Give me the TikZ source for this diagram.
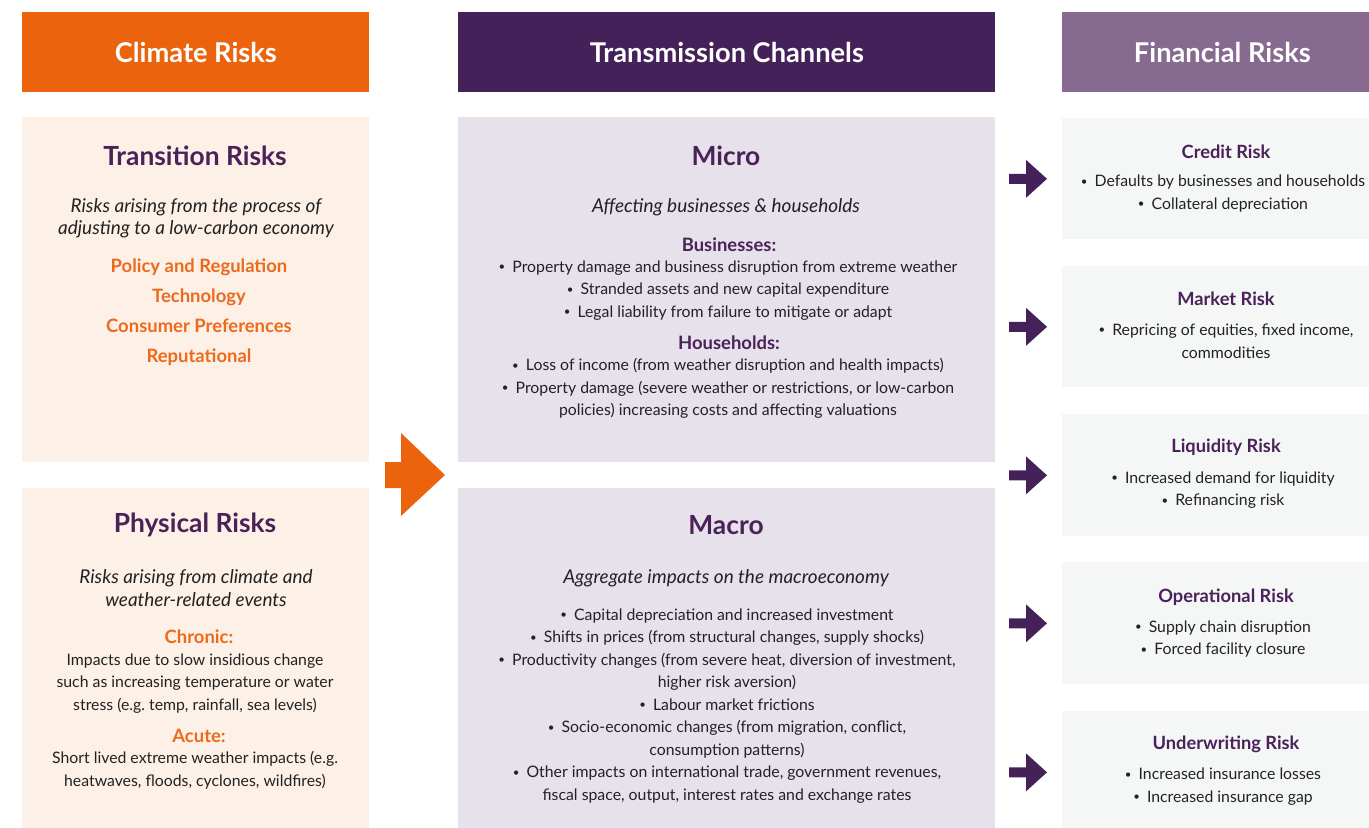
\documentclass[tikz,border=0pt]{standalone}
\usepackage{fontspec}
\setmainfont{Lato}
\frenchspacing

\definecolor{cOrange}{HTML}{EB630C}
\definecolor{cOrangeTxt}{HTML}{EC6A1C}
\definecolor{cPurple}{HTML}{45215A}
\definecolor{cLilacHead}{HTML}{866A8F}
\definecolor{cTitle}{HTML}{4A2158}
\definecolor{cPeach}{HTML}{FDF0E7}
\definecolor{cLilac}{HTML}{E6E1EA}
\definecolor{cGrey}{HTML}{F5F7F7}
\definecolor{cBody}{HTML}{222222}

% small bullet
\newcommand{\bul}{\raisebox{0.2ex}{\fontsize{6.5}{6.5}\selectfont\textbullet}\hspace{0.45em}}

\tikzset{
  head/.style={anchor=north west, inner sep=0pt, text=white,
    font=\bfseries\fontsize{15.5}{18}\selectfont, minimum height=1.6cm},
  pane/.style={anchor=north west, inner sep=0pt},
  ttl/.style={inner sep=0pt, text=cTitle, font=\bfseries\fontsize{15}{18}\selectfont},
  rttl/.style={inner sep=0pt, text=cTitle, font=\bfseries\fontsize{10.4}{12}\selectfont},
  sub/.style={inner sep=0pt, align=center, text=cBody, font=\itshape\fontsize{10.8}{12.8}\selectfont},
  body/.style={inner sep=0pt, align=center, text=cBody, font=\fontsize{9}{12.8}\selectfont},
  tag/.style={inner sep=0pt, align=center, font=\bfseries\fontsize{10.5}{17.1}\selectfont},
}

\begin{document}
\begin{tikzpicture}[x=0.02cm, y=-0.02cm]
    \useasboundingbox (0,0) rectangle (1369,828);
    % column heads
    \node[head, fill=cOrange, minimum width=6.94cm] (hclim) at (22,12) {Climate Risks};
    \node[head, fill=cPurple, minimum width=10.74cm] (htrans) at (458,12) {Transmission Channels};
    \node[head, fill=cLilacHead, minimum width=6.4cm] (hfin) at (1062,12) {Financial Risks};
    % panes
    \node[pane, fill=cPeach, minimum width=6.94cm, minimum height=6.9cm] (ptrans) at (22,117) {};
    \node[pane, fill=cPeach, minimum width=6.94cm, minimum height=6.8cm] (pphys) at (22,488) {};
    \node[pane, fill=cLilac, minimum width=10.74cm, minimum height=6.9cm] (pmicro) at (458,117) {};
    \node[pane, fill=cLilac, minimum width=10.74cm, minimum height=6.8cm] (pmacro) at (458,488) {};
    \node[pane, fill=cGrey, minimum width=6.66cm, minimum height=2.42cm] (credit) at (1062,118) {};
    \node[pane, fill=cGrey, minimum width=6.66cm, minimum height=2.42cm] (market) at (1062,266) {};
    \node[pane, fill=cGrey, minimum width=6.66cm, minimum height=2.44cm] (liquid) at (1062,414) {};
    \node[pane, fill=cGrey, minimum width=6.66cm, minimum height=2.44cm] (oper) at (1062,562) {};
    \node[pane, fill=cGrey, minimum width=6.66cm, minimum height=2.44cm] (under) at (1062,711) {};
    % transition risks
    \node[ttl] (ttrans) at (195,156) {Transition Risks};
    \node[sub] (strans) at (196,218) {Risks arising from the process of\\adjusting to a low-carbon economy};
    \node[tag, text=cOrangeTxt] (ltrans) at (199,312) {Policy and Regulation\\Technology\\Consumer Preferences\\Reputational};
    % physical risks
    \node[ttl] (tphys) at (195,525) {Physical Risks};
    \node[sub] (sphys) at (196,588) {Risks arising from climate and\\weather-related events};
    \node[tag, text=cOrangeTxt] (chron) at (199,637) {Chronic:};
    \node[body] (lchron) at (195,683.5) {Impacts due to slow insidious change\\such as increasing temperature or water\\stress (e.g. temp, rainfall, sea levels)};
    \node[tag, text=cOrangeTxt] (acute) at (199,736) {Acute:};
    \node[body] (lacute) at (195,770) {Short lived extreme weather impacts (e.g.\\heatwaves, floods, cyclones, wildfires)};
    % micro
    \node[ttl] (tmicro) at (726,156) {Micro};
    \node[sub] (smicro) at (726,207) {Affecting businesses \& households};
    \node[tag, text=cTitle] (busi) at (729,245) {Businesses:};
    \node[body] (lbusi) at (728,290.5) {\bul Property damage and business disruption from extreme weather\\
        \bul Stranded assets and new capital expenditure\\
        \bul Legal liability from failure to mitigate or adapt};
    \node[tag, text=cTitle] (hous) at (729,343) {Households:};
    \node[body] (lhous) at (728,388.5) {\bul Loss of income (from weather disruption and health impacts)\\
        \bul Property damage (severe weather or restrictions, or low-carbon\\
        policies) increasing costs and affecting valuations};
    % macro
    \node[ttl] (tmacro) at (726,525) {Macro};
    \node[sub] (smacro) at (726,578) {Aggregate impacts on the macroeconomy};
    \node[body] (lmacro) at (727,706) {\bul Capital depreciation and increased investment\\
        \bul Shifts in prices (from structural changes, supply shocks)\\
        \bul Productivity changes (from severe heat, diversion of investment,\\
        higher risk aversion)\\
        \bul Labour market frictions\\
        \bul Socio-economic changes (from migration, conflict,\\
        consumption patterns)\\
        \bul Other impacts on international trade, government revenues,\\
        fiscal space, output, interest rates and exchange rates};
    % financial risks
    \node[rttl] (tcredit) at (1226,152) {Credit Risk};
    \node[body] (lcredit) at (1223,193.5) {\bul Defaults by businesses and households\\\bul Collateral depreciation};
    \node[rttl] (tmarket) at (1226,299) {Market Risk};
    \node[body] (lmarket) at (1226,341) {\bul Repricing of equities, fixed income,\\commodities};
    \node[rttl] (tliquid) at (1226,447) {Liquidity Risk};
    \node[body] (lliquid) at (1223,490) {\bul Increased demand for liquidity\\\bul Refinancing risk};
    \node[rttl] (toper) at (1226,597) {Operational Risk};
    \node[body] (loper) at (1223,639) {\bul Supply chain disruption\\\bul Forced facility closure};
    \node[rttl] (tunder) at (1226,744) {Underwriting Risk};
    \node[body] (lunder) at (1223,786.5) {\bul Increased insurance losses\\\bul Increased insurance gap};
    % arrows
    \fill[cOrange] (385,462) -- (401,462) -- (401,433) -- (445,475)
        -- (401,516) -- (401,488) -- (385,488) -- cycle;
    \foreach \b in {credit,market,liquid,oper,under}
        \fill[cPurple] ([shift={(-53,-5)}]\b.west) -- ++(17,0) -- ++(0,-14)
            -- ++(21,19) -- ++(-21,19) -- ++(0,-14) -- ++(-17,0) -- cycle;
\end{tikzpicture}
\end{document}
